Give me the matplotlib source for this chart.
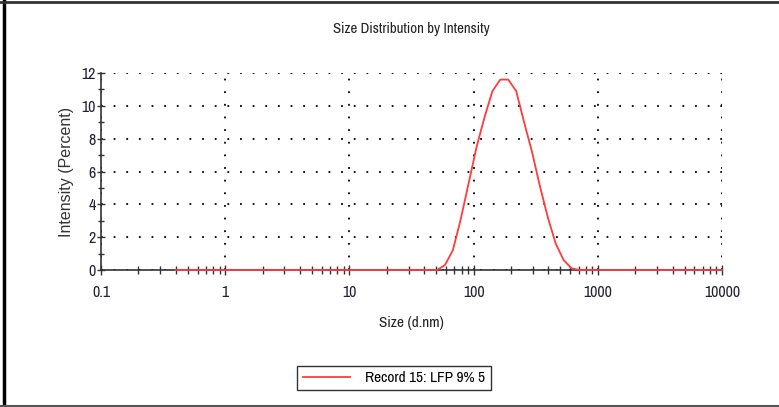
import matplotlib.pyplot as plt
from matplotlib.lines import Line2D
from matplotlib.ticker import LogLocator, FixedLocator, NullFormatter
from matplotlib import font_manager

# Size classes (d.nm) and intensity (%)
sizes = [0.4, 0.4632, 0.5365, 0.6213, 0.7195, 0.8332, 0.9649, 1.117, 1.294,
         1.499, 1.736, 2.01, 2.328, 2.696, 3.122, 3.615, 4.187, 4.849, 5.615,
         6.503, 7.531, 8.721, 10.1, 11.7, 13.54, 15.69, 18.17, 21.04, 24.36,
         28.21, 32.67, 37.84, 43.82, 50.75, 58.77, 68.06, 78.82, 91.28, 105.7,
         122.4, 141.8, 164.2, 190.1, 220.2, 255.0, 295.3, 342.0, 396.1, 458.7,
         531.2, 615.1, 712.4, 825.0, 955.4, 1106, 1281, 1484, 1718, 1990,
         2305, 2669, 3091, 3580, 4145, 4801, 5560, 6439, 7456, 8635, 10000]
intensity = [0.0] * 33 + [0.0, 0.3, 1.2, 3.1, 5.3, 7.5, 9.3, 10.9, 11.6,
                          11.6, 10.9, 9.0, 7.2, 5.1, 3.2, 1.6, 0.6, 0.1] \
    + [0.0] * 19

x_ticks = [0.1, 1, 10, 100, 1000, 10000]
x_labels = ["0.1", "1", "10", "100", "1000", "10000"]
y_ticks = [0, 2, 4, 6, 8, 10, 12]

# look for a narrow / condensed sans face
narrow = {"family": "Liberation Sans", "stretch": "normal"}
for f in font_manager.fontManager.ttflist:
    if f.style != "normal" or f.weight not in (400, "normal", "regular"):
        continue
    if "Narrow" in f.name:
        narrow = {"family": f.name, "stretch": "normal"}
        break
    if str(f.stretch) in ("condensed", "semi-condensed", "75", "87.5") \
            or "Condensed" in f.fname:
        narrow = {"family": f.name, "stretch": "condensed"}
NF = narrow["family"]
NS = narrow["stretch"]

fig = plt.figure(figsize=(7.79, 4.07), dpi=100)
ax = fig.add_axes([101 / 779, 1 - 270 / 407, 621 / 779, 197 / 407])

ax.plot(sizes, intensity, color="#ff3b3b", lw=1.3,
        label="Record 15: LFP 9% 5", zorder=5, clip_on=False)

ax.set_xscale("log")
ax.set_xlim(0.1, 10000)
ax.set_ylim(0, 12)

ax.xaxis.set_major_locator(FixedLocator(x_ticks))
ax.set_xticklabels(x_labels)
ax.xaxis.set_minor_locator(LogLocator(base=10, subs=range(2, 10)))
ax.xaxis.set_minor_formatter(NullFormatter())
ax.set_yticks(y_ticks)
ax.yaxis.set_minor_locator(FixedLocator([1, 3, 5, 7, 9, 11]))

for s in ["top", "right"]:
    ax.spines[s].set_visible(False)
for s in ["left", "bottom"]:
    ax.spines[s].set_color("#333333")
    ax.spines[s].set_linewidth(1.2)

ax.tick_params(axis="both", which="both", direction="inout", color="#333333",
               width=1)
ax.tick_params(axis="x", which="major", length=7, pad=7)
ax.tick_params(axis="x", which="minor", length=6)
ax.tick_params(axis="y", which="major", length=6, pad=1)
ax.tick_params(axis="y", which="minor", length=5)
for lab in ax.get_xticklabels() + ax.get_yticklabels():
    lab.set_fontfamily(NF)
    lab.set_fontstretch(NS)
    lab.set_fontsize(11.5)
    lab.set_color("#222233")

ax.grid(True, which="major", color="black", linestyle=(0, (1, 6)), lw=1.3)

ax.set_title("Size Distribution by Intensity", fontfamily=NF, fontstretch=NS,
             fontsize=10.7, color="#222222", pad=29)
ax.set_xlabel("Size (d.nm)", fontfamily=NF, fontstretch=NS, fontsize=11,
              color="#222222", labelpad=12)
ax.set_ylabel("Intensity (Percent)", fontfamily="Liberation Sans",
              fontsize=11.5, color="#333333", labelpad=5)

leg = fig.legend(loc="center", bbox_to_anchor=(394 / 779, 1 - 378 / 407),
                 fancybox=False, frameon=True, handlelength=3.1,
                 borderpad=0.35, handletextpad=1.0,
                 prop={"family": NF, "stretch": NS, "size": 11})
leg.get_frame().set_edgecolor("black")
leg.get_frame().set_linewidth(1)

# outer frame lines (left, top, bottom)
fig.add_artist(Line2D([4 / 779, 4 / 779], [0, 1], color="black", lw=2.5,
                      transform=fig.transFigure))
fig.add_artist(Line2D([0, 1], [1 - 2 / 407, 1 - 2 / 407], color="#333333",
                      lw=2, transform=fig.transFigure))
fig.add_artist(Line2D([0, 1], [1 / 407, 1 / 407], color="#555555", lw=1.5,
                      transform=fig.transFigure))

fig.savefig("out.png", dpi=100)
